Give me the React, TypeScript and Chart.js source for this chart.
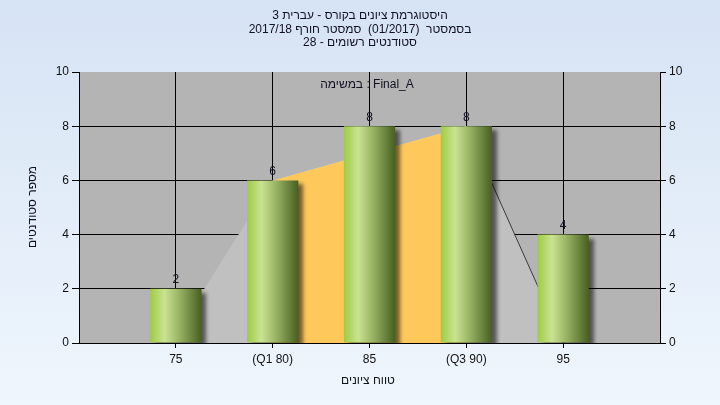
import React, { useEffect, useRef } from "react";
import { Chart, registerables } from "chart.js";

Chart.register(...registerables);

const titleLines = [
  "היסטוגרמת ציונים בקורס - עברית 3",
  "בסמסטר  (01/2017)  סמסטר חורף 2017/18",
  "סטודנטים רשומים - 28",
];
const taskLabel = "במשימה : Final_A";
const xAxisTitle = "טווח ציונים";
const yAxisTitle = "מספר סטודנטים";

const xMin = 70;
const xMax = 100;
const binCenters = [75, 80, 85, 90, 95];
const studentCounts = [2, 6, 8, 8, 4];
const tickLabels = ["75", "(Q1 80)", "85", "(Q3 90)", "95"];
const yTicks = [0, 2, 4, 6, 8, 10];

const curveX = [74.7, 80, 85, 90, 95];
const curveY = [0, 6, 7, 8, 0];
const iqrX = [80, 85, 90];
const iqrY = [6, 7, 8];
const tailX = [90, 95];
const tailY = [8, 0];

const FONT = "'Liberation Sans', Arial, sans-serif";
const BAR_FRACTION = 0.53;

export default function App() {
  const ref = useRef<HTMLCanvasElement | null>(null);

  useEffect(() => {
    document.body.style.margin = "0";
    const canvas = ref.current;
    if (!canvas) return;

    const bgPlugin = {
      id: "bg",
      beforeDraw(chart: any) {
        const { ctx, width, height, chartArea } = chart;
        ctx.save();
        const g = ctx.createLinearGradient(0, 0, 0, height);
        g.addColorStop(0, "#d6e3f4");
        g.addColorStop(1, "#eff6fd");
        ctx.fillStyle = g;
        ctx.fillRect(0, 0, width, height);
        ctx.fillStyle = "#b4b4b4";
        ctx.fillRect(chartArea.left, chartArea.top, chartArea.right - chartArea.left, chartArea.bottom - chartArea.top);
        ctx.restore();
      },
    };

    const shadowPlugin = {
      id: "barShadow",
      beforeDatasetDraw(chart: any, args: any) {
        if (args.meta.type !== "bar") return;
        const ctx = chart.ctx;
        ctx.save();
        ctx.shadowColor = "rgba(0,0,0,0.55)";
        ctx.shadowOffsetX = 5;
        ctx.shadowOffsetY = 4;
        ctx.shadowBlur = 4;
      },
      afterDatasetDraw(chart: any, args: any) {
        if (args.meta.type !== "bar") return;
        chart.ctx.restore();
      },
    };

    const textPlugin = {
      id: "texts",
      afterDraw(chart: any) {
        const { ctx } = chart;
        ctx.save();
        ctx.fillStyle = "#111122";
        ctx.font = `12px ${FONT}`;
        ctx.textAlign = "center";
        ctx.textBaseline = "middle";
        ctx.direction = "rtl";
        const ty = [16, 30, 43];
        titleLines.forEach((t, i) => ctx.fillText(t, 360, ty[i]));
        ctx.fillText(xAxisTitle, 368, 381);
        ctx.save();
        ctx.translate(33, 207);
        ctx.rotate(-Math.PI / 2);
        ctx.fillText(yAxisTitle, 0, 0);
        ctx.restore();
        ctx.direction = "ltr";
        ctx.fillText(taskLabel, 367, 85);
        const meta = chart.getDatasetMeta(0);
        ctx.textBaseline = "bottom";
        meta.data.forEach((el: any, i: number) => {
          ctx.fillText(String(studentCounts[i]), el.x, el.y - 3);
        });
        ctx.restore();
      },
    };

    const barColor = (c: any) => {
      const chart = c.chart;
      const xs = chart.scales?.x;
      if (!xs || !c.raw) return "#a4d04a";
      const cx = xs.getPixelForValue(c.raw.x);
      const half = ((xs.getPixelForValue(5) - xs.getPixelForValue(0)) * BAR_FRACTION) / 2;
      if (!isFinite(cx) || !isFinite(half)) return "#a4d04a";
      const g = chart.ctx.createLinearGradient(cx - half, 0, cx + half, 0);
      g.addColorStop(0, "#9fcb45");
      g.addColorStop(0.28, "#c9e391");
      g.addColorStop(0.55, "#9cb668");
      g.addColorStop(1, "#475f20");
      return g;
    };

    const chart = new Chart(canvas, {
      type: "bar",
      data: {
        datasets: [
          {
            type: "bar",
            data: binCenters.map((x, i) => ({ x, y: studentCounts[i] })),
            backgroundColor: barColor,
            borderWidth: 0,
            barPercentage: BAR_FRACTION,
            categoryPercentage: 1,
            order: 0,
          } as any,
          {
            type: "line",
            data: tailX.map((x, i) => ({ x, y: tailY[i] })),
            borderColor: "#3a3a3a",
            borderWidth: 1,
            pointRadius: 0,
            fill: false,
            order: 1,
          },
          {
            type: "line",
            data: iqrX.map((x, i) => ({ x, y: iqrY[i] })),
            borderWidth: 0,
            borderColor: "rgba(0,0,0,0)",
            backgroundColor: "#fec95a",
            pointRadius: 0,
            fill: "origin",
            order: 2,
          },
          {
            type: "line",
            data: curveX.map((x, i) => ({ x, y: curveY[i] })),
            borderWidth: 0,
            borderColor: "rgba(0,0,0,0)",
            backgroundColor: "#c0c0c0",
            pointRadius: 0,
            fill: "origin",
            order: 3,
          },
        ],
      },
      options: {
        animation: false,
        responsive: false,
        devicePixelRatio: 1,
        layout: { padding: { top: 72, left: 0, right: 0, bottom: 0 } },
        plugins: {
          legend: { display: false },
          title: { display: false },
          tooltip: { enabled: false },
        },
        scales: {
          x: {
            type: "linear",
            min: xMin,
            max: xMax,
            offset: false,
            afterBuildTicks: (s: any) => {
              s.ticks = binCenters.map((v) => ({ value: v }));
            },
            afterFit: (s: any) => {
              s.height = 62;
            },
            ticks: {
              callback: (v: any) => {
                const i = binCenters.indexOf(Number(v));
                return i >= 0 ? tickLabels[i] : "";
              },
              color: "#111",
              font: { family: FONT, size: 12 },
              padding: 4,
              maxRotation: 0,
              autoSkip: false,
            },
            grid: { offset: false, color: "#000", tickColor: "#000", tickLength: 5, lineWidth: 1 },
            border: { display: true, color: "#000" },
          },
          y: {
            type: "linear",
            position: "left",
            min: 0,
            max: 10,
            afterBuildTicks: (s: any) => {
              s.ticks = yTicks.map((v) => ({ value: v }));
            },
            afterFit: (s: any) => {
              s.width = 79;
            },
            ticks: { color: "#111", font: { family: FONT, size: 12 }, padding: 3 },
            grid: {
              color: (c: any) => (c.tick && (c.tick.value === 0 || c.tick.value === 10) ? "rgba(0,0,0,0)" : "#000"),
              tickColor: "#000",
              tickLength: 7,
            },
            border: { display: true, color: "#000" },
          },
          y2: {
            type: "linear",
            position: "right",
            min: 0,
            max: 10,
            afterBuildTicks: (s: any) => {
              s.ticks = yTicks.map((v) => ({ value: v }));
            },
            afterFit: (s: any) => {
              s.width = 60;
            },
            ticks: { color: "#111", font: { family: FONT, size: 12 }, padding: 3 },
            grid: { drawOnChartArea: false, color: "#000", tickColor: "#000", tickLength: 6 },
            border: { display: true, color: "#000" },
          },
        },
      } as any,
      plugins: [bgPlugin, shadowPlugin, textPlugin],
    });

    return () => chart.destroy();
  }, []);

  return <canvas ref={ref} width={720} height={405} style={{ display: "block", width: 720, height: 405 }} />;
}
